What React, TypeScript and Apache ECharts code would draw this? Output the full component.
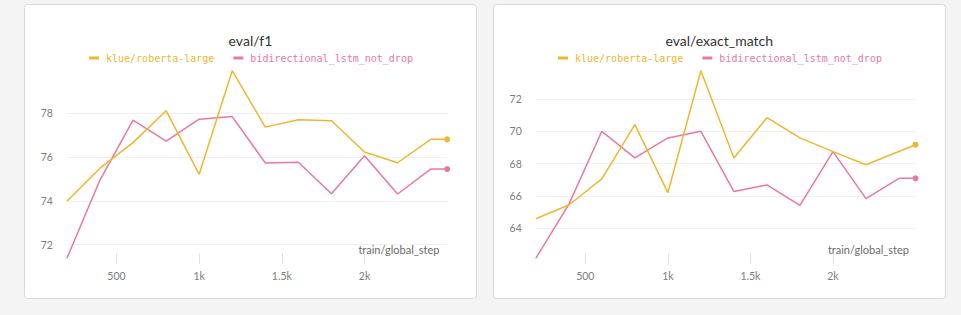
import React, { useEffect, useRef } from "react";
import * as echarts from "echarts";

const steps = [200, 400, 600, 800, 1000, 1200, 1400, 1600, 1800, 2000, 2200, 2400, 2500];
const f1Roberta = [73.98, 75.49, 76.66, 78.12, 75.21, 79.95, 77.37, 77.71, 77.66, 76.23, 75.74, 76.81, 76.81];
const f1Lstm = [71.37, 74.95, 77.69, 76.73, 77.73, 77.85, 75.73, 75.76, 74.32, 76.06, 74.31, 75.45, 75.45];
const emRoberta = [64.59, 65.44, 67.05, 70.41, 66.2, 73.75, 68.35, 70.84, 69.59, 68.74, 67.93, null, 69.17];
const emLstm = [62.14, 65.48, 70.0, 68.35, 69.59, 70.0, 66.27, 66.68, 65.42, 68.74, 65.83, 67.09, 67.09];

const seriesNames = ["klue/roberta-large", "bidirectional_lstm_not_drop"];
const chartTitles = ["eval/f1", "eval/exact_match"];
const xTicks = [500, 1000, 1500, 2000];
const xTickLabels = ["500", "1k", "1.5k", "2k"];
const f1YTicks = [72, 74, 76, 78];
const emYTicks = [64, 66, 68, 70, 72];
const xAxisTitle = "train/global_step";

const COLORS = ["#efb630", "#e8799f"];
const SANS = "Lato, 'Noto Sans', sans-serif";
const MONO = "'DejaVu Sans Mono', monospace";

function toData(vals: (number | null)[]) {
  const pts: any[] = [];
  steps.forEach((s, i) => {
    const v = vals[i];
    if (v !== null && v !== undefined) pts.push({ value: [s, v] });
  });
  const last = pts[pts.length - 1];
  last.symbol = "circle";
  last.symbolSize = 6;
  return pts;
}

export default function App() {
  const ref = useRef<HTMLDivElement>(null);
  useEffect(() => {
    if (!ref.current) return;
    const chart = echarts.init(ref.current, undefined, { renderer: "svg" });

    const panels = [
      { x: 24.5, w: 452, gridLeft: 66.9, gridWidth: 380.3, center: 250.5, legendLeft: 89, nameRight: 439.5, yTicks: f1YTicks, data: [f1Roberta, f1Lstm] },
      { x: 493.5, w: 452, gridLeft: 535.8, gridWidth: 379.7, center: 719.3, legendLeft: 558, nameRight: 909, yTicks: emYTicks, data: [emRoberta, emLstm] },
    ];

    const option: any = {
      animation: false,
      backgroundColor: "#f4f4f4",
      title: panels.map((p, i) => ({
        text: chartTitles[i],
        left: p.center,
        top: 33,
        textAlign: "center",
        padding: 0,
        textStyle: { fontFamily: SANS, fontSize: 14, fontWeight: "normal", color: "#333" },
      })),
      legend: panels.map((p) => ({
        left: p.legendLeft,
        top: 53,
        padding: 0,
        icon: "rect",
        itemWidth: 10,
        itemHeight: 3,
        itemGap: 19,
        selectedMode: false,
        data: seriesNames.map((n, k) => ({ name: n, textStyle: { color: COLORS[k] } })),
        textStyle: { fontFamily: MONO, fontSize: 10, padding: [0, 0, 0, 2] },
      })),
      grid: panels.map((p) => ({ left: p.gridLeft, width: p.gridWidth, top: 70.7, height: 187.6 })),
      xAxis: panels.map((p, i) => ({
        type: "value",
        gridIndex: i,
        min: 200,
        max: 2500,
        offset: -5,
        axisLine: { show: false },
        axisTick: { show: true, length: 11, lineStyle: { color: "#e2e2e2" }, customValues: xTicks },
        axisLabel: {
          customValues: xTicks,
          formatter: (v: number) => xTickLabels[xTicks.indexOf(v)] ?? "",
          color: "#7d7d7d",
          fontFamily: SANS,
          fontSize: 10.5,
          margin: 17,
        },
        splitLine: { show: false },
      })),
      yAxis: panels.map((p, i) => ({
        type: "value",
        gridIndex: i,
        min: "dataMin",
        max: "dataMax",
        axisLine: { show: false },
        axisTick: { show: false, customValues: p.yTicks },
        axisLabel: { customValues: p.yTicks, color: "#7d7d7d", fontFamily: SANS, fontSize: 10.5, margin: 14 },
        splitLine: { show: true, lineStyle: { color: "#f0f0f0", width: 1 } },
      })),
      series: panels.flatMap((p, i) =>
        p.data.map((vals, k) => ({
          type: "line",
          name: seriesNames[k],
          xAxisIndex: i,
          yAxisIndex: i,
          data: toData(vals),
          symbol: "none",
          showSymbol: true,
          connectNulls: true,
          clip: false,
          silent: true,
          color: COLORS[k],
          itemStyle: { color: COLORS[k] },
          lineStyle: { color: COLORS[k], width: 1.5 },
          z: 3 - k,
        }))
      ),
      graphic: [
        ...panels.map((p) => ({
          type: "rect",
          z: -100,
          shape: { x: p.x, y: 4.5, width: p.w, height: 294, r: 3 },
          style: { fill: "#ffffff", stroke: "#d9d9d9", lineWidth: 1 },
        })),
        ...panels.map((p) => ({
          type: "text",
          x: p.nameRight,
          y: 249.6,
          style: {
            text: xAxisTitle,
            align: "right",
            verticalAlign: "middle",
            fill: "#6b6b6b",
            fontFamily: SANS,
            fontSize: 11,
          },
        })),
      ],
    };
    chart.setOption(option);
    return () => chart.dispose();
  }, []);
  return (
    <div
      ref={ref}
      style={{ position: "absolute", left: 0, top: 0, width: 961, height: 315 }}
    />
  );
}
